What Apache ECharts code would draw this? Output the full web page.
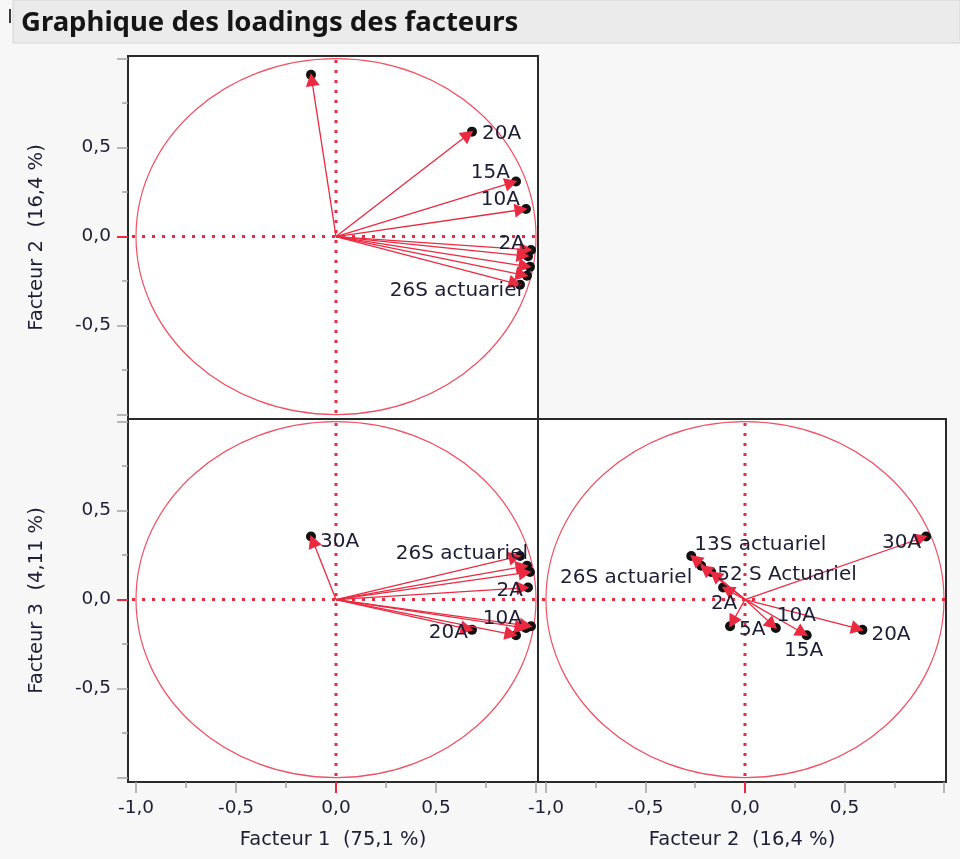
<!DOCTYPE html>
<html>
<head>
<meta charset="utf-8">
<script src="https://cdn.jsdelivr.net/npm/echarts@6/dist/echarts.min.js"></script>
<style>
  html, body { margin: 0; padding: 0; background: #f7f7f7; }
  #chart { width: 960px; height: 859px; }
</style>
</head>
<body>
<div id="chart"></div>
<script>
// Factor loadings of the rate variables on the first three factors
const variables = ['13S actuariel', '26S actuariel', '52 S Actuariel', '2A', '5A', '10A', '15A', '20A', '30A'];
const factor1 = [0.92, 0.955, 0.97, 0.96, 0.975, 0.95, 0.90, 0.68, -0.125];
const factor2 = [-0.27, -0.22, -0.17, -0.11, -0.075, 0.155, 0.31, 0.59, 0.91];
const factor3 = [0.245, 0.19, 0.155, 0.068, -0.15, -0.16, -0.20, -0.17, 0.355];

// Tick values
const majorTicks = [-1, -0.5, 0.5, 1];
const minorTicks = [-0.75, -0.25, 0.25, 0.75];
const xTickLabels = [-1, -0.5, 0, 0.5];
const yTickLabels = [-0.5, 0, 0.5];

const titleText = 'Graphique des loadings des facteurs';
const nameF1 = 'Facteur 1  (75,1 %)';
const nameF2 = 'Facteur 2  (16,4 %)';
const nameF3 = 'Facteur 3  (4,11 %)';

// Styling
const RED = '#ea2a40';
const CIRCLE = '#ef5263';
const TEXT = '#1d1d35';
const FONT = '"DejaVu Sans", sans-serif';
const X_MIN = -1.04, X_MAX = 1.01;
const Y_MIN = -1.025, Y_MAX = 1.015;

// Which arrows carry a label in each panel: [dx, dy, align] relative to the tip
const labelsF1F2 = {
  '20A': [10, 2, 'left'],
  '15A': [-6, -9, 'right'],
  '10A': [-6, -9, 'right'],
  '2A': [-3, -12, 'right'],
  '26S actuariel': [-5, 15, 'right']
};
const labelsF1F3 = {
  '30A': [9, 5, 'left'],
  '26S actuariel': [1, -12, 'right'],
  '2A': [-5, 3, 'right'],
  '10A': [-4, -9, 'right'],
  '20A': [-4, 3, 'right']
};
const labelsF2F3 = {
  '30A': [-5, 6, 'right'],
  '13S actuariel': [3, -11, 'left'],
  '26S actuariel': [-9, 12, 'right'],
  '52 S Actuariel': [6, 3, 'left'],
  '2A': [1, 16, 'center'],
  '5A': [9, 3, 'left'],
  '10A': [1, -12, 'left'],
  '15A': [-3, 16, 'center'],
  '20A': [9, 5, 'left']
};

function fmt(v) {
  return (v < 0 ? '-' : '') + Math.abs(v).toFixed(1).replace('.', ',');
}

// Unit circle and dotted zero lines of one panel
function renderFrame(params, api) {
  const c = api.coord([0, 0]);
  const s = api.size([1, 1]);
  const cs = params.coordSys;
  const dash = { stroke: RED, lineWidth: 3, lineDash: [3, 7], fill: null };
  return {
    type: 'group',
    children: [
      { type: 'ellipse', shape: { cx: c[0], cy: c[1], rx: s[0], ry: s[1] },
        style: { fill: null, stroke: CIRCLE, lineWidth: 1.2 } },
      { type: 'line', shape: { x1: cs.x + 4, y1: c[1], x2: cs.x + cs.width, y2: c[1] }, style: dash },
      { type: 'line', shape: { x1: c[0], y1: cs.y + 4, x2: c[0], y2: cs.y + cs.height }, style: dash }
    ]
  };
}

// Loading vectors from the origin with an arrow head and optional name
function makeArrowRenderer(layout) {
  return function (params, api) {
    const o = api.coord([0, 0]);
    const p = api.coord([api.value(0), api.value(1)]);
    const name = variables[params.dataIndex];
    const dx = p[0] - o[0], dy = p[1] - o[1];
    const len = Math.hypot(dx, dy) || 1;
    const ux = dx / len, uy = dy / len;
    const tx = p[0] + ux * 1.5, ty = p[1] + uy * 1.5;
    const hl = 13, hw = 7;
    const bx = tx - ux * hl, by = ty - uy * hl;
    const children = [
      { type: 'line', shape: { x1: o[0], y1: o[1], x2: bx + ux * 3, y2: by + uy * 3 },
        style: { stroke: RED, lineWidth: 1.3 } },
      { type: 'polygon',
        shape: { points: [[tx, ty], [bx - uy * hw, by + ux * hw], [bx + uy * hw, by - ux * hw]] },
        style: { fill: RED } }
    ];
    const lab = layout[name];
    if (lab) {
      children.push({
        type: 'text', z2: 100,
        x: p[0] + lab[0], y: p[1] + lab[1],
        style: { text: name, font: '20px ' + FONT, fill: TEXT, align: lab[2], verticalAlign: 'middle' }
      });
    }
    return { type: 'group', children: children };
  };
}

// Axis helpers: labelled major ticks, short minor ticks, red zero tick
function hiddenAxis(gridIndex, min, max) {
  return { type: 'value', gridIndex: gridIndex, min: min, max: max, show: false,
           axisLine: { onZero: false }, splitLine: { show: false } };
}
function axisSet(gridIndex, min, max, position, labels, name, nameGap) {
  const base = { type: 'value', gridIndex: gridIndex, min: min, max: max, position: position, offset: 0,
                 axisLine: { show: false, onZero: false }, splitLine: { show: false } };
  return [
    Object.assign({}, base, {
      name: name, nameLocation: 'middle', nameGap: nameGap,
      nameTextStyle: { fontFamily: FONT, fontSize: 19.5, color: TEXT },
      axisTick: { show: true, inside: false, length: 11, customValues: majorTicks,
                  lineStyle: { color: '#a2a2a2', width: 1.5 } },
      axisLabel: { show: true, customValues: labels, margin: 17, formatter: fmt,
                   fontFamily: FONT, fontSize: 18.5, color: TEXT }
    }),
    Object.assign({}, base, {
      axisTick: { show: true, inside: false, length: 6, customValues: minorTicks,
                  lineStyle: { color: '#a2a2a2', width: 1.5 } },
      axisLabel: { show: false }
    }),
    Object.assign({}, base, {
      axisTick: { show: true, inside: false, length: 11, customValues: [0],
                  lineStyle: { color: RED, width: 2 } },
      axisLabel: { show: false }
    })
  ];
}

const gridStyle = { show: true, backgroundColor: '#ffffff', borderColor: '#2a2a2a', borderWidth: 2,
                    outerBoundsMode: 'none', containLabel: false };

const xAxes = [hiddenAxis(0, X_MIN, X_MAX)]
  .concat(axisSet(1, X_MIN, X_MAX, 'bottom', xTickLabels, nameF1, 48))
  .concat(axisSet(2, X_MIN, X_MAX, 'bottom', xTickLabels, nameF2, 48));
const yAxes = axisSet(0, Y_MIN, Y_MAX, 'left', yTickLabels, nameF2, 81)
  .concat(axisSet(1, Y_MIN, Y_MAX, 'left', yTickLabels, nameF3, 81))
  .concat([hiddenAxis(2, Y_MIN, Y_MAX)]);

const pairsF1F2 = variables.map((n, i) => [factor1[i], factor2[i]]);
const pairsF1F3 = variables.map((n, i) => [factor1[i], factor3[i]]);
const pairsF2F3 = variables.map((n, i) => [factor2[i], factor3[i]]);

// Per panel: black dots underneath, arrows on top
const panels = [
  { x: 0, y: 0, data: pairsF1F2, labels: labelsF1F2 },
  { x: 1, y: 3, data: pairsF1F3, labels: labelsF1F3 },
  { x: 4, y: 6, data: pairsF2F3, labels: labelsF2F3 }
];
const series = [];
panels.forEach(function (pn) {
  series.push({ type: 'custom', xAxisIndex: pn.x, yAxisIndex: pn.y, data: [[0, 0]],
                renderItem: renderFrame, silent: true, z: 1 });
  series.push({ type: 'scatter', xAxisIndex: pn.x, yAxisIndex: pn.y, data: pn.data,
                symbol: 'circle', symbolSize: 10, itemStyle: { color: '#111', opacity: 1 },
                silent: true, z: 2 });
  series.push({ type: 'custom', xAxisIndex: pn.x, yAxisIndex: pn.y, data: pn.data,
                renderItem: makeArrowRenderer(pn.labels), z: 3 });
});

const chart = echarts.init(document.getElementById('chart'), null, { renderer: 'canvas' });
chart.setOption({
  backgroundColor: '#f7f7f7',
  animation: false,
  grid: [
    Object.assign({ left: 128, top: 56, width: 410, height: 363 }, gridStyle),
    Object.assign({ left: 128, top: 419, width: 410, height: 363 }, gridStyle),
    Object.assign({ left: 538, top: 419, width: 408, height: 363 }, gridStyle)
  ],
  xAxis: xAxes,
  yAxis: yAxes,
  graphic: [
    { type: 'rect', shape: { x: 13, y: 0, width: 947, height: 43 },
      style: { fill: '#ebebeb', stroke: '#d6d6d6', lineWidth: 1 } },
    { type: 'rect', shape: { x: 9, y: 9, width: 2, height: 14 }, style: { fill: '#3a3a3a' } },
    { type: 'text', x: 21, y: 23,
      style: { text: titleText, font: 'bold 27.5px "Noto Sans", sans-serif', fill: '#151515', verticalAlign: 'middle' } }
  ],
  series: series
});
</script>
</body>
</html>
